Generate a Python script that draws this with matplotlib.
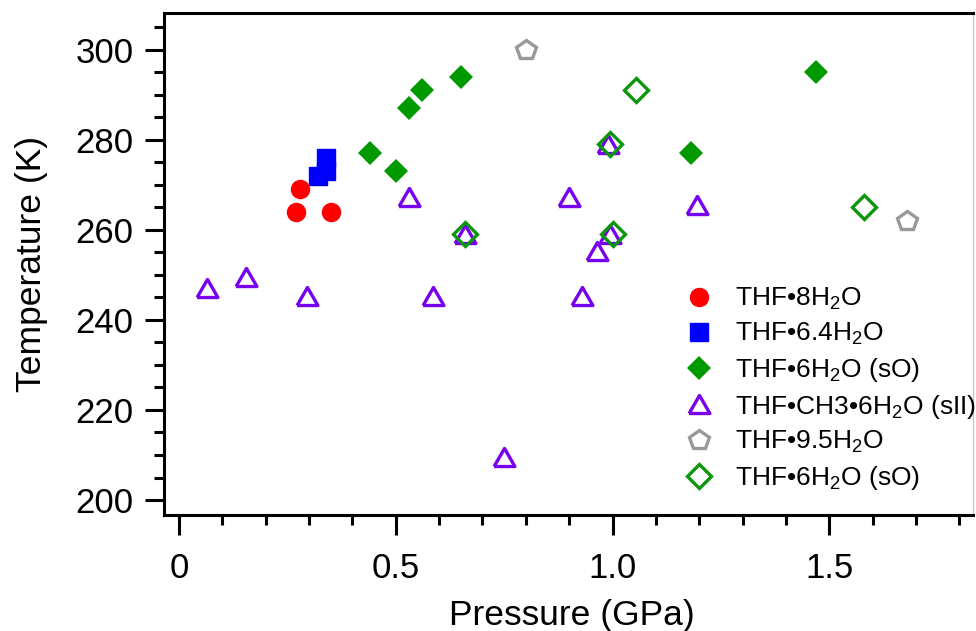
import numpy as np
import matplotlib
matplotlib.use('Agg')
import matplotlib.pyplot as plt
from matplotlib.ticker import MultipleLocator

matplotlib.rcParams.update({
    'font.family': ['Liberation Sans', 'DejaVu Sans'],
    'mathtext.fontset': 'custom',
    'mathtext.rm': 'Liberation Sans',
    'mathtext.it': 'Liberation Sans:italic',
    'mathtext.bf': 'Liberation Sans:bold',
})

# data (pressure in GPa, temperature in K)
p_8h2o = [0.28, 0.27, 0.35]
t_8h2o = [269, 264, 264]

p_64h2o = [0.32, 0.34, 0.34]
t_64h2o = [272, 276, 273]

p_6h2o = [0.44, 0.50, 0.53, 0.56, 0.65, 1.18, 1.47]
t_6h2o = [277, 273, 287, 291, 294, 277, 295]

p_ch3 = [0.065, 0.155, 0.295, 0.53, 0.585, 0.66, 0.75, 0.90, 0.93, 0.965, 0.99, 0.995, 1.195]
t_ch3 = [247, 249.5, 245.3, 267.4, 245.4, 259, 209.6, 267.4, 245.4, 255.4, 279, 259, 265.6]

p_95h2o = [0.80, 1.68]
t_95h2o = [300, 262]

p_6h2o_open = [0.66, 0.995, 1.0, 1.055, 1.58]
t_6h2o_open = [259, 279, 259, 291, 265]

labels = ['THF•8H$_2$O', 'THF•6.4H$_2$O', 'THF•6H$_2$O (sO)',
          'THF•CH3•6H$_2$O (sII)', 'THF•9.5H$_2$O', 'THF•6H$_2$O (sO)']

# equilateral-ish triangle, bbox centred
tri = [(-1, -0.866), (1, -0.866), (0, 0.866), (-1, -0.866)]

fig = plt.figure(figsize=(9.76, 6.31), dpi=100)
ax = fig.add_axes([164/976, 1-515/631, (973-164)/976, (515-13)/631])

ax.plot(p_8h2o, t_8h2o, ls='none', marker='o', ms=13, color='#ff0000', mec='#ff0000', label=labels[0])
ax.plot(p_64h2o, t_64h2o, ls='none', marker='s', ms=12.5, color='#0000ff', mec='#0000ff', label=labels[1])
ax.plot(p_6h2o, t_6h2o, ls='none', marker='D', ms=12.5, color='#009900', mec='#009900', mew=0, label=labels[2])
ax.plot(p_ch3, t_ch3, ls='none', marker=tri, ms=15, mfc='none', mec='#7700ee', mew=2.4, label=labels[3])
ax.plot(p_95h2o, t_95h2o, ls='none', marker='p', ms=15, mfc='none', mec='#999999', mew=2.4, label=labels[4])
ax.plot(p_6h2o_open, t_6h2o_open, ls='none', marker='D', ms=12, mfc='none', mec='#0c960c', mew=2.4, label=labels[5])

ax.set_xlim(-0.0346, 1.8316)
ax.set_ylim(196.67, 308.2)

ax.xaxis.set_major_locator(MultipleLocator(0.5))
ax.xaxis.set_minor_locator(MultipleLocator(0.1))
ax.yaxis.set_major_locator(MultipleLocator(20))
ax.yaxis.set_minor_locator(MultipleLocator(5))
ax.set_xticks([0, 0.5, 1.0, 1.5])
ax.set_xticklabels(['0', '0.5', '1.0', '1.5'])

ax.tick_params(axis='both', which='both', direction='out', top=False, right=False, width=2.2, colors='black')
ax.tick_params(axis='x', which='major', length=14.4, pad=12.5, labelsize=25)
ax.tick_params(axis='y', which='major', length=13.5, pad=8.5, labelsize=25)
ax.tick_params(axis='both', which='minor', length=7.2)

for s in ['left', 'bottom', 'top']:
    ax.spines[s].set_linewidth(2.2)
ax.spines['right'].set_linewidth(1)
ax.spines['right'].set_color('#c8c8c8')

ax.set_xlabel('Pressure (GPa)', fontsize=25.5)
ax.set_ylabel('Temperature (K)', fontsize=25.5)
ax.xaxis.set_label_coords((572-164)/809, -0.167)
ax.yaxis.set_label_coords((48-164)/809, 0.5)

leg = ax.legend(loc='upper left', bbox_to_anchor=(686/976, 1-286/631), bbox_transform=fig.transFigure,
                frameon=False, fontsize=19, numpoints=1, borderpad=0, borderaxespad=0,
                handlelength=1.0, handletextpad=0.85, labelspacing=0.33)

fig.savefig('out.png', dpi=100)
